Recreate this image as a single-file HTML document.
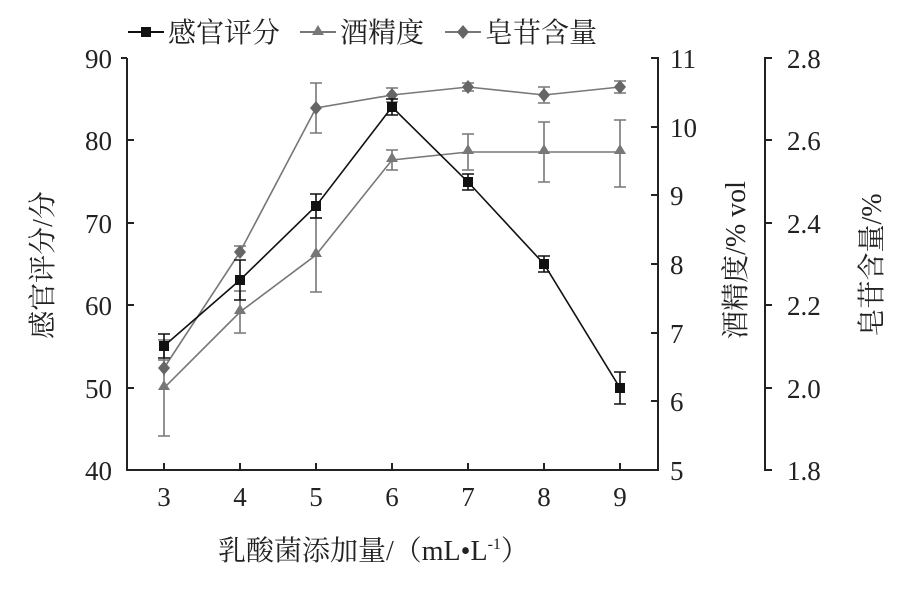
<!DOCTYPE html>
<html><head><meta charset="utf-8"><style>
body{margin:0;background:#fff;}
svg text{font-family:"Liberation Serif","Noto Serif CJK SC","Noto Sans CJK SC",serif;fill:#222;}
</style></head><body>
<svg width="909" height="586" viewBox="0 0 909 586" xmlns="http://www.w3.org/2000/svg">
<g stroke="#222" stroke-width="2" fill="none">
<path d="M127 58 H121 M127 58 V470 H658 V58 H651 M772 58 H765 V470 H772"/>
<path d="M127 140 H134 M127 223 H134 M127 305 H134 M127 388 H134"/>
<path d="M164 470 V463 M240 470 V463 M316 470 V463 M392 470 V463 M468 470 V463 M544 470 V463 M620 470 V463"/>
<path d="M658 127 H651 M658 195 H651 M658 264 H651 M658 333 H651 M658 401 H651"/>
<path d="M772 140 H765 M772 223 H765 M772 305 H765 M772 388 H765"/>
</g>
<g font-size="27" text-anchor="end">
<text x="112" y="68">90</text><text x="112" y="150">80</text><text x="112" y="233">70</text><text x="112" y="315">60</text><text x="112" y="398">50</text><text x="112" y="480">40</text>
</g>
<g font-size="27" text-anchor="start">
<text x="670" y="68">11</text><text x="670" y="137">10</text><text x="670" y="205">9</text><text x="670" y="274">8</text><text x="670" y="343">7</text><text x="670" y="411">6</text><text x="670" y="480">5</text>
<text x="787" y="68">2.8</text><text x="787" y="150">2.6</text><text x="787" y="233">2.4</text><text x="787" y="315">2.2</text><text x="787" y="398">2.0</text><text x="787" y="480">1.8</text>
</g>
<g font-size="27" text-anchor="middle">
<text x="164" y="506">3</text><text x="240" y="506">4</text><text x="316" y="506">5</text><text x="392" y="506">6</text><text x="468" y="506">7</text><text x="544" y="506">8</text><text x="620" y="506">9</text>
</g>
<!-- triangle series -->
<g stroke="#777" stroke-width="1.6" fill="none">
<path d="M164 340 V436 M158 340 H170 M158 436 H170 M240 291 V333 M234 291 H246 M234 333 H246 M316 218 V292 M310 218 H322 M310 292 H322 M392 150 V170 M386 150 H398 M386 170 H398 M468 134 V170 M462 134 H474 M462 170 H474 M544 122 V182 M538 122 H550 M538 182 H550 M620 120 V187 M614 120 H626 M614 187 H626"/>
<polyline points="164,388 240,312 316,255 392,160 468,152 544,152 620,152"/>
</g>
<g fill="#777"><path d="M164 380 l6 10 h-12z M240 304 l6 10 h-12z M316 247 l6 10 h-12z M392 152 l6 10 h-12z M468 144 l6 10 h-12z M544 144 l6 10 h-12z M620 144 l6 10 h-12z"/></g>
<!-- diamond series -->
<g stroke="#777" stroke-width="1.6" fill="none">
<path d="M164 360 V376 M158 360 H170 M240 246 V258 M234 246 H246 M316 83 V133 M310 83 H322 M310 133 H322 M392 88 V102 M386 88 H398 M386 102 H398 M468 83 V91 M462 83 H474 M462 91 H474 M544 87 V103 M538 87 H550 M538 103 H550 M620 81 V93 M614 81 H626 M614 93 H626"/>
<polyline points="164,368 240,252 316,108 392,95 468,87 544,95 620,87"/>
</g>
<g fill="#666"><path d="M164 361 l6 7 -6 7 -6 -7z M240 245 l6 7 -6 7 -6 -7z M316 101 l6 7 -6 7 -6 -7z M392 88 l6 7 -6 7 -6 -7z M468 80 l6 7 -6 7 -6 -7z M544 88 l6 7 -6 7 -6 -7z M620 80 l6 7 -6 7 -6 -7z"/></g>
<!-- square series -->
<g stroke="#111" stroke-width="1.6" fill="none">
<path d="M164 334 V358 M158 334 H170 M158 358 H170 M240 260 V300 M234 260 H246 M234 300 H246 M316 194 V218 M310 194 H322 M310 218 H322 M392 99 V115 M386 99 H398 M386 115 H398 M468 174 V190 M462 174 H474 M462 190 H474 M544 256 V272 M538 256 H550 M538 272 H550 M620 372 V404 M614 372 H626 M614 404 H626"/>
<polyline points="164,346 240,280 316,206 392,107 468,182 544,264 620,388"/>
</g>
<g fill="#111"><rect x="159" y="341" width="10" height="10"/><rect x="235" y="275" width="10" height="10"/><rect x="311" y="201" width="10" height="10"/><rect x="387" y="102" width="10" height="10"/><rect x="463" y="177" width="10" height="10"/><rect x="539" y="259" width="10" height="10"/><rect x="615" y="383" width="10" height="10"/></g>
<!-- legend -->
<g stroke-width="2"><path d="M128 32 H164" stroke="#111"/><path d="M300 32 H336" stroke="#777"/><path d="M445 32 H481" stroke="#777"/></g>
<rect x="141" y="27" width="10" height="10" fill="#111"/>
<path d="M318 25 l6 10 h-12z" fill="#777"/>
<path d="M463 25 l6 7 -6 7 -6 -7z" fill="#666"/>
<g font-size="28"><text x="168" y="42">感官评分</text><text x="340" y="42">酒精度</text><text x="485" y="42">皂苷含量</text></g>
<text font-size="28" text-anchor="middle" transform="translate(52,265) rotate(-90)">感官评分/分</text>
<text font-size="28" text-anchor="middle" transform="translate(745,260) rotate(-90)">酒精度/% vol</text>
<text font-size="28" text-anchor="middle" transform="translate(881,265) rotate(-90)">皂苷含量/%</text>
<text font-size="28" x="218" y="560">乳酸菌添加量/（mL•L<tspan font-size="16" dy="-11">-1</tspan><tspan dy="11">）</tspan></text>
</svg>
</body></html>
